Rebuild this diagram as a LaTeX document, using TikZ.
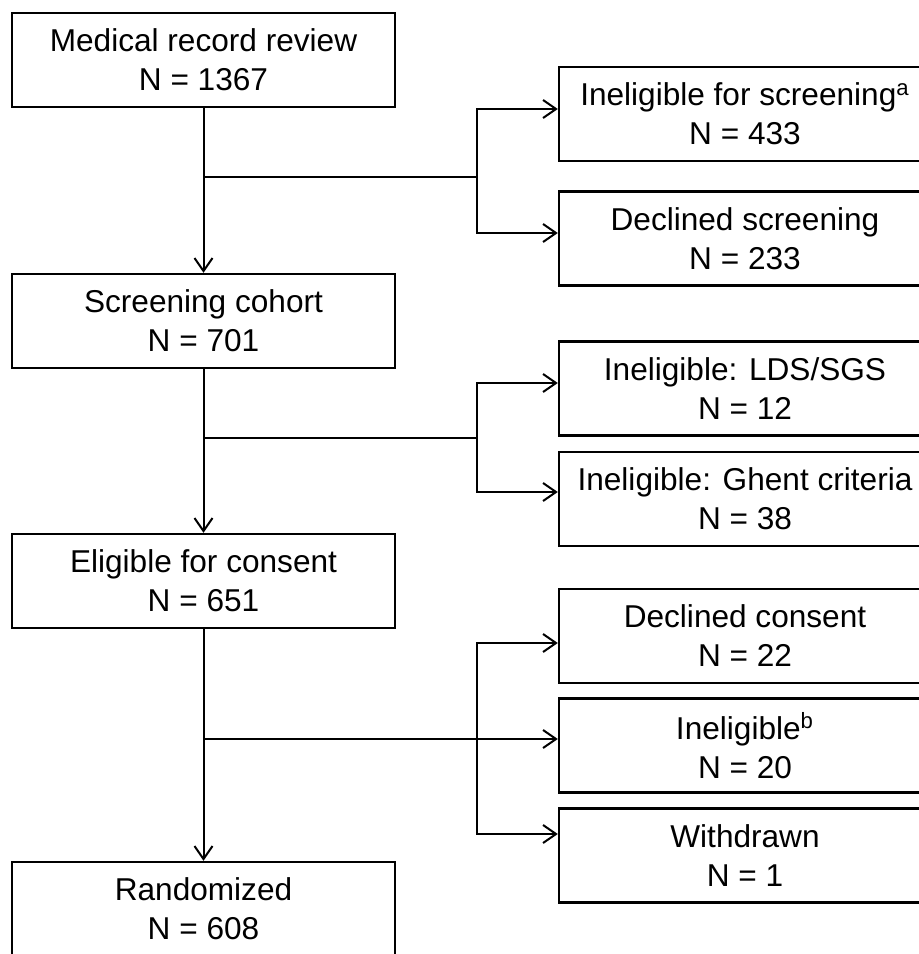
\documentclass[tikz,border=0pt]{standalone}
\usepackage{fontspec}
\setmainfont{Liberation Sans}
\usetikzlibrary{arrows.meta, positioning, calc}

\begin{document}
\begin{tikzpicture}[x=0.5pt, y=-0.5pt, line width=1pt,
    box/.style={draw, line width=1.2pt, align=center, inner sep=0pt, font=\fontsize{15.8}{19.5}\selectfont},
    lbox/.style={box, minimum width=191.5pt, minimum height=47pt},
    rbox/.style={box, minimum width=186pt, minimum height=47pt},
    arr/.style={-{Straight Barb[length=6.5pt, width=9pt]}}]
    \useasboundingbox (0,0) rectangle (918,954);
    \node[lbox] (review)  at (203.5,60)  {Medical record review\\N = 1367};
    \node[lbox] (cohort)  at (203.5,321) {Screening cohort\\N = 701};
    \node[lbox] (consent) at (203.5,581) {Eligible for consent\\N = 651};
    \node[lbox] (random)  at (203.5,909) {Randomized\\N = 608};
    \node[rbox] (inelig)  at (745,114)   {Ineligible for screening\textsuperscript{a}\\N = 433};
    \node[rbox] (declscr) at (745,238.5) {Declined screening\\N = 233};
    \node[rbox] (ldssgs)  at (745,388.5) {Ineligible: LDS/SGS\\N = 12};
    \node[rbox] (ghent)   at (745,499)   {Ineligible: Ghent criteria\\N = 38};
    \node[rbox] (declcon) at (745,636)   {Declined consent\\N = 22};
    \node[rbox] (ineligb) at (745,745.5) {Ineligible\textsuperscript{b}\\N = 20};
    \node[rbox] (withdr)  at (745,855.5) {Withdrawn\\N = 1};
    \coordinate (s1) at (203.5,177);
    \coordinate (s2) at (203.5,438);
    \coordinate (s3) at (203.5,739);
    \coordinate (t1) at (477,109);
    \coordinate (t2) at (477,233);
    \coordinate (t3) at (477,383);
    \coordinate (t4) at (477,492);
    \coordinate (t5) at (477,643);
    \coordinate (t7) at (477,834);
    \draw[arr] (review) -- (cohort);
    \draw[arr] (cohort) -- (consent);
    \draw[arr] (consent) -- (random);
    \draw[arr] (s1) -- (s1 -| t1) -- (t1) -- (t1 -| inelig.west);
    \draw[arr] (s1 -| t1) -- (t2) -- (t2 -| declscr.west);
    \draw[arr] (s2) -- (s2 -| t3) -- (t3) -- (t3 -| ldssgs.west);
    \draw[arr] (s2 -| t3) -- (t4) -- (t4 -| ghent.west);
    \draw[arr] (s3) -- (s3 -| ineligb.west);
    \draw[arr] (s3 -| t5) -- (t5) -- (t5 -| declcon.west);
    \draw[arr] (s3 -| t5) -- (t7) -- (t7 -| withdr.west);
\end{tikzpicture}
\end{document}
